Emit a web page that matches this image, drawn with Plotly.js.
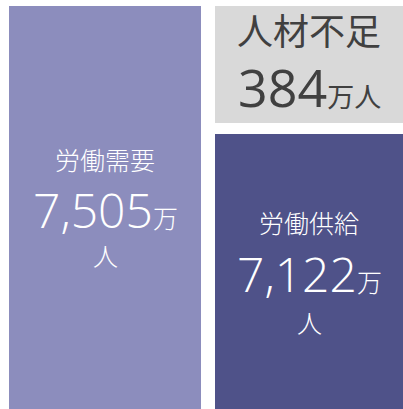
<!DOCTYPE html>
<html><head><meta charset="utf-8">
<script src="https://cdn.plot.ly/plotly-3.0.1.min.js"></script>
<style>html,body{margin:0;padding:0;background:#fff;}#chart{width:403px;height:409px;}</style>
</head><body><div id="chart"></div>
<script>
const categories = ['労働需要', '労働供給', '人材不足'];
const values = [7505, 7122, 384];
const unitMan = '万';
const unitNin = '人';

const colors = ['#8c8dbd', '#4f5289', '#d9d9d9'];
const W = 403, H = 409, L = 9, T = 6;
const fam = '"Open Sans", "Noto Sans CJK JP", sans-serif';
const fmt = v => v.toLocaleString('en-US');

const traces = [
  {type: 'bar', x: [0], y: [values[0]], width: [1], xaxis: 'x', yaxis: 'y', marker: {color: colors[0]}, hoverinfo: 'none'},
  {type: 'bar', x: [0], y: [values[1]], width: [1], xaxis: 'x2', yaxis: 'y2', marker: {color: colors[1]}, hoverinfo: 'none'},
  {type: 'bar', x: [0], y: [values[2]], width: [1], xaxis: 'x2', yaxis: 'y3', marker: {color: colors[2]}, hoverinfo: 'none'}
];

function ann(xref, yref, yval, text, size, color, shift, weight) {
  return {xref: xref, yref: yref, x: 0, y: yval, text: text, showarrow: false,
    xanchor: 'center', yanchor: 'middle', yshift: shift,
    font: {family: fam, size: size, color: color, weight: weight}};
}

const annotations = [
  ann('x', 'y', values[0] / 2, categories[0], 25, '#ffffff', 48, 300),
  ann('x', 'y', values[0] / 2, fmt(values[0]) + '<span style="font-size:25px">' + unitMan + '</span>', 48, '#ffffff', -2, 300),
  ann('x', 'y', values[0] / 2, unitNin, 25, '#ffffff', -48, 300),
  ann('x2', 'y2', values[1] / 2, categories[1], 25, '#ffffff', 49, 300),
  ann('x2', 'y2', values[1] / 2, fmt(values[1]) + '<span style="font-size:25px">' + unitMan + '</span>', 48, '#ffffff', -2, 300),
  ann('x2', 'y2', values[1] / 2, unitNin, 25, '#ffffff', -51, 300),
  ann('x2', 'y3', values[2] / 2, categories[2], 36, '#404040', 33, 400),
  ann('x2', 'y3', values[2] / 2, fmt(values[2]) + '<span style="font-size:27px">' + unitMan + unitNin + '</span>', 52, '#404040', -22, 400)
];

const plotW = W - L, plotH = H - T;
const layout = {
  width: W, height: H,
  margin: {l: L, r: 0, t: T, b: 0, pad: 0},
  paper_bgcolor: '#ffffff', plot_bgcolor: 'rgba(0,0,0,0)',
  showlegend: false,
  bargap: 0,
  xaxis: {domain: [0, 192 / plotW], range: [-0.5, 0.5], visible: false, fixedrange: true},
  xaxis2: {domain: [206 / plotW, 1], range: [-0.5, 0.5], visible: false, anchor: 'y2', fixedrange: true},
  yaxis: {domain: [0, 1], range: [0, values[0]], visible: false, anchor: 'x', fixedrange: true},
  yaxis2: {domain: [0, 275 / plotH], range: [0, values[1]], visible: false, anchor: 'x2', fixedrange: true},
  yaxis3: {domain: [286 / plotH, 1], range: [0, values[2]], visible: false, anchor: 'x2', fixedrange: true},
  annotations: annotations
};

Plotly.newPlot('chart', traces, layout, {staticPlot: true, displayModeBar: false});
</script>
</body></html>
